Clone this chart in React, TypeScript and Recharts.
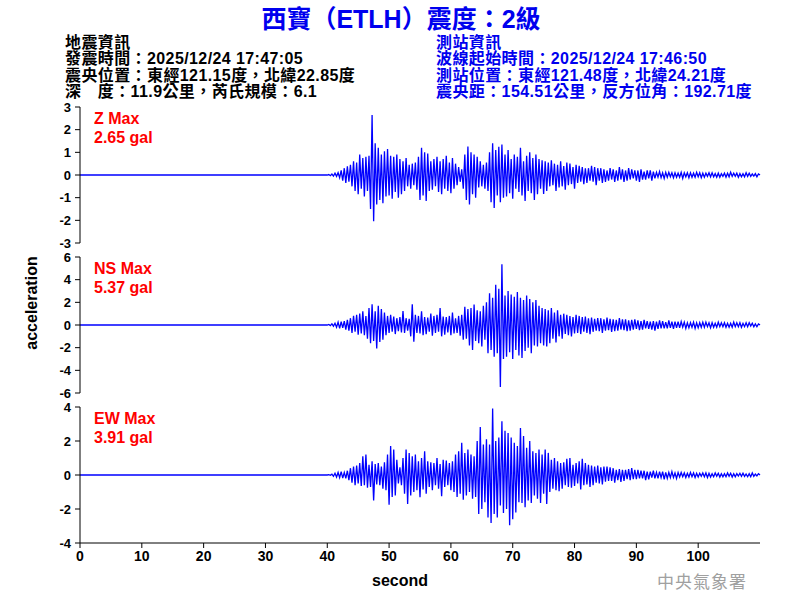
import React from 'react';
import { LineChart, Line, XAxis, YAxis } from 'recharts';

// ============================================
// DATA
// ============================================

// sampling grid of the traces (seconds); before the first sample the trace is flat
const SIGNAL_START = 40;
const SAMPLE_STEP = 0.25;

const secondTicks = [0, 10, 20, 30, 40, 50, 60, 70, 80, 90, 100];

const zTicks = [-3, -2, -1, 0, 1, 2, 3];
const nsTicks = [-6, -4, -2, 0, 2, 4, 6];
const ewTicks = [-4, -2, 0, 2, 4];

// vertical component (gal), one row per second, 4 samples per row
const zValues = [
  0, 0.02, -0.03, 0.04,
  -0.05, 0.08, -0.06, 0.1,
  -0.12, 0.2, -0.25, 0.3,
  -0.35, 0.38, -0.3, 0.45,
  -0.5, 0.6, -0.7, 0.55,
  -0.85, 0.9, -0.6, 0.75,
  -0.95, 0.8, -0.7, 0.85,
  -1.5, 2.65, -2.04, 1.4,
  -1.3, 1.2, -1.1, 0.9,
  -1.25, 1.05, -0.95, 1.15,
  -0.9, 0.85, -1.05, 0.8,
  -0.75, 0.9, -1.0, 0.7,
  -0.85, 0.6, -0.7, 0.75,
  -0.5, 0.45, -0.6, 0.5,
  -0.45, 0.55, -0.65, 0.8,
  -1.1, 1.2, -0.9, 1.0,
  -1.15, 0.95, -0.7, 0.6,
  -0.65, 0.7, -0.5, 0.8,
  -0.75, 0.6, -0.85, 0.7,
  -0.6, 0.85, -0.7, 0.55,
  -0.8, 0.75, -0.6, 0.5,
  -0.45, 0.35, -0.3, 0.25,
  -0.6, 0.9, -1.1, 1.26,
  -1.3, 1.0, -0.85, 0.9,
  -1.0, 0.8, -0.55, 0.6,
  -0.5, 0.45, -0.6, 0.55,
  -0.7, 1.0, -1.2, 1.4,
  -1.45, 1.1, -0.9, 1.25,
  -1.2, 1.35, -1.0, 0.9,
  -0.95, 1.1, -0.8, 0.7,
  -1.05, 0.9, -0.6, 0.8,
  -0.75, 1.2, -0.9, 0.6,
  -1.15, 0.85, -0.7, 1.0,
  -0.8, 0.75, -1.1, 0.9,
  -0.85, 0.7, -0.6, 0.65,
  -0.84, 0.6, -0.7, 0.55,
  -0.5, 0.65, -0.45, 0.5,
  -0.7, 0.45, -0.55, 0.6,
  -0.5, 0.4, -0.65, 0.55,
  -0.45, 0.5, -0.4, 0.35,
  -0.6, 0.45, -0.35, 0.4,
  -0.3, 0.35, -0.4, 0.3,
  -0.35, 0.3, -0.25, 0.4,
  -0.3, 0.35, -0.45, 0.3,
  -0.25, 0.3, -0.35, 0.25,
  -0.3, 0.2, -0.25, 0.3,
  -0.2, 0.25, -0.3, 0.2,
  -0.25, 0.35, -0.2, 0.25,
  -0.3, 0.2, -0.25, 0.3,
  -0.2, 0.25, -0.15, 0.2,
  -0.25, 0.2, -0.3, 0.25,
  -0.2, 0.15, -0.2, 0.2,
  -0.15, 0.2, -0.25, 0.15,
  -0.15, 0.12, -0.1, 0.15,
  -0.12, 0.1, -0.15, 0.12,
  -0.1, 0.12, -0.08, 0.1,
  -0.12, 0.1, -0.1, 0.08,
  -0.1, 0.12, -0.15, 0.1,
  -0.08, 0.1, -0.12, 0.1,
  -0.1, 0.08, -0.1, 0.12,
  -0.08, 0.1, -0.12, 0.08,
  -0.1, 0.08, -0.06, 0.1,
  -0.08, 0.1, -0.08, 0.06,
  -0.1, 0.08, -0.1, 0.06,
  -0.06, 0.08, -0.1, 0.08,
  -0.08, 0.12, -0.06, 0.08,
  -0.06, 0.08, -0.1, 0.06,
  -0.08, 0.06, -0.08, 0.1,
  -0.06, 0.08, -0.06, 0.05,
  -0.05, 0.06, -0.08, 0.05,
  0,
];

// north-south component (gal)
const nsValues = [
  0, 0.05, -0.05, 0.1,
  -0.1, 0.15, -0.2, 0.25,
  -0.3, 0.3, -0.25, 0.35,
  -0.4, 0.45, -0.5, 0.6,
  -0.7, 0.8, -0.6, 0.9,
  -0.85, 1.0, -0.75, 1.2,
  -0.9, 0.8, -1.2, 1.5,
  -1.6, 1.83, -1.4, 1.2,
  -2.07, 1.7, -1.5, 1.4,
  -1.3, 1.1, -0.9, 0.8,
  -0.7, 0.9, -0.6, 0.75,
  -0.8, 0.6, -0.55, 0.7,
  -0.65, 1.24, -0.7, 0.6,
  -0.5, 0.55, -1.0, 1.83,
  -1.48, 0.9, -0.7, 0.8,
  -0.75, 1.2, -0.9, 0.7,
  -0.8, 0.65, -0.6, 1.0,
  -0.95, 0.8, -0.7, 0.9,
  -0.6, 1.5, -1.0, 0.75,
  -0.85, 0.7, -0.65, 0.8,
  -0.9, 1.1, -0.75, 0.6,
  -0.7, 0.8, -0.95, 0.9,
  -1.3, 1.6, -1.2, 1.4,
  -1.8, 1.5, -2.2, 1.8,
  -1.4, 1.3, -1.6, 1.2,
  -1.9, 1.7, -1.3, 2.0,
  -2.5, 2.8, -2.2, 2.4,
  -2.8, 3.55, -2.5, 3.2,
  -5.47, 5.37, -3.0, 2.6,
  -2.8, 3.0, -2.4, 2.7,
  -3.0, 2.5, -2.2, 2.9,
  -2.7, 2.4, -2.9, 2.2,
  -2.3, 2.6, -2.0, 2.3,
  -2.5, 2.0, -1.8, 2.2,
  -1.9, 1.7, -1.6, 1.5,
  -1.8, 1.4, -1.9, 1.3,
  -1.6, 1.5, -1.2, 1.1,
  -1.54, 1.3, -1.0, 0.9,
  -1.2, 1.0, -0.8, 0.9,
  -0.9, 0.8, -1.0, 0.7,
  -0.75, 0.9, -0.7, 0.8,
  -0.8, 0.7, -0.6, 0.75,
  -0.7, 0.6, -0.8, 0.65,
  -0.6, 0.55, -0.5, 0.6,
  -0.55, 0.6, -0.7, 0.5,
  -0.5, 0.65, -0.45, 0.55,
  -0.6, 0.5, -0.55, 0.45,
  -0.5, 0.6, -0.4, 0.5,
  -0.45, 0.5, -0.55, 0.4,
  -0.5, 0.45, -0.4, 0.5,
  -0.35, 0.4, -0.45, 0.35,
  -0.4, 0.45, -0.3, 0.35,
  -0.35, 0.3, -0.4, 0.35,
  -0.5, 0.3, -0.35, 0.4,
  -0.3, 0.35, -0.3, 0.25,
  -0.3, 0.4, -0.25, 0.3,
  -0.35, 0.3, -0.25, 0.3,
  -0.25, 0.3, -0.2, 0.25,
  -0.3, 0.2, -0.25, 0.2,
  -0.2, 0.25, -0.3, 0.2,
  -0.25, 0.2, -0.2, 0.25,
  -0.2, 0.25, -0.15, 0.2,
  -0.25, 0.2, -0.2, 0.15,
  -0.2, 0.25, -0.15, 0.2,
  -0.15, 0.2, -0.2, 0.15,
  -0.2, 0.15, -0.2, 0.25,
  -0.15, 0.2, -0.15, 0.2,
  -0.2, 0.15, -0.15, 0.2,
  -0.15, 0.2, -0.1, 0.15,
  -0.15, 0.1, -0.15, 0.1,
  0,
];

// east-west component (gal)
const ewValues = [
  0, 0.02, -0.02, 0.05,
  -0.08, 0.1, -0.12, 0.15,
  -0.15, 0.2, -0.18, 0.15,
  -0.2, 0.25, -0.3, 0.4,
  -0.45, 0.5, -0.6, 0.55,
  -0.5, 0.7, -0.65, 1.1,
  -0.6, 1.2, -0.75, 0.6,
  -0.7, 0.8, -1.5, 0.65,
  -0.55, 0.7, -0.6, 0.5,
  -0.8, 0.75, -0.9, 1.2,
  -1.75, 1.7, -1.3, 1.5,
  -1.2, 0.9, -0.5, 0.45,
  -0.6, 1.0, -1.1, 1.5,
  -1.7, 1.3, -1.2, 1.1,
  -1.0, 1.2, -0.9, 0.8,
  -1.3, 1.0, -0.85, 1.4,
  -1.1, 0.8, -0.7, 0.75,
  -0.9, 0.7, -0.6, 1.0,
  -0.8, 0.65, -1.25, 0.9,
  -0.7, 0.85, -0.6, 0.7,
  -0.9, 0.8, -1.0, 1.2,
  -1.3, 1.4, -1.1, 1.9,
  -1.45, 1.3, -1.2, 1.5,
  -1.0, 1.2, -1.4, 1.1,
  -1.3, 2.0, -2.3, 2.82,
  -2.0, 1.8, -1.6, 2.1,
  -2.5, 1.8, -2.82, 3.91,
  -2.3, 2.0, -2.5, 2.2,
  -1.8, 3.16, -2.24, 2.6,
  -2.0, 2.47, -2.96, 2.2,
  -2.6, 1.9, -2.2, 1.7,
  -1.6, 2.76, -1.65, 2.3,
  -1.9, 1.6, -1.5, 2.0,
  -1.65, 1.4, -1.2, 1.3,
  -1.4, 1.5, -1.65, 1.2,
  -1.1, 1.5, -1.7, 1.3,
  -1.0, 0.9, -0.8, 1.0,
  -0.9, 0.8, -0.95, 0.7,
  -0.8, 0.75, -0.6, 0.95,
  -0.7, 1.0, -0.75, 0.6,
  -0.65, 0.7, -0.5, 0.8,
  -0.85, 0.95, -0.6, 0.7,
  -0.55, 0.6, -0.7, 0.55,
  -0.6, 0.5, -0.45, 0.55,
  -0.5, 0.45, -0.55, 0.5,
  -0.4, 0.5, -0.35, 0.45,
  -0.35, 0.4, -0.45, 0.3,
  -0.3, 0.35, -0.4, 0.3,
  -0.35, 0.3, -0.25, 0.35,
  -0.3, 0.4, -0.25, 0.3,
  -0.25, 0.3, -0.2, 0.25,
  -0.2, 0.25, -0.3, 0.2,
  -0.25, 0.2, -0.15, 0.25,
  -0.2, 0.15, -0.2, 0.2,
  -0.15, 0.2, -0.25, 0.15,
  -0.2, 0.15, -0.15, 0.2,
  -0.15, 0.12, -0.2, 0.15,
  -0.12, 0.15, -0.1, 0.12,
  -0.15, 0.1, -0.12, 0.15,
  -0.1, 0.12, -0.15, 0.1,
  -0.12, 0.1, -0.08, 0.12,
  -0.1, 0.12, -0.15, 0.1,
  -0.12, 0.08, -0.1, 0.12,
  -0.08, 0.1, -0.12, 0.08,
  -0.1, 0.08, -0.1, 0.12,
  -0.08, 0.1, -0.12, 0.08,
  -0.1, 0.08, -0.06, 0.1,
  -0.08, 0.1, -0.08, 0.06,
  -0.1, 0.08, -0.1, 0.12,
  -0.08, 0.06, -0.05, 0.08,
  0,
];

const headerLeft = [
  '地震資訊',
  '發震時間：2025/12/24 17:47:05',
  '震央位置：東經121.15度，北緯22.85度',
  '深　度：11.9公里，芮氏規模：6.1',
];

const headerRight = [
  '測站資訊',
  '波線起始時間：2025/12/24 17:46:50',
  '測站位置：東經121.48度，北緯24.21度',
  '震央距：154.51公里，反方位角：192.71度',
];

// ============================================
// HELPERS
// ============================================

const FONT = "'Liberation Sans', Arial, 'Noto Sans CJK TC', sans-serif";
const CJK_FONT = "'Liberation Sans', 'Noto Sans CJK TC', sans-serif";
const WAVE_BLUE = '#0000ff';

const toTrace = (values: number[]) => [
  { t: 0, v: 0 },
  ...values.map((v, i) => ({ t: SIGNAL_START + i * SAMPLE_STEP, v })),
];

const tickStyle = { fontFamily: FONT, fontSize: 13, fontWeight: 700, fill: '#000' };

interface PanelProps {
  top: number;
  values: number[];
  ticks: number[];
  limit: number;
  showXAxis?: boolean;
}

const Panel = ({ top, values, ticks, limit, showXAxis }: PanelProps) => {
  const data = toTrace(values);
  return (
    <div style={{ position: 'absolute', left: 0, top }}>
      <LineChart
        width={800}
        height={showXAxis ? 176 : 156}
        data={data}
        margin={{ top: 10, right: 40, left: 0, bottom: showXAxis ? 0 : 10 }}
      >
        <XAxis
          dataKey="t"
          type="number"
          domain={[0, 110]}
          ticks={secondTicks}
          interval={0}
          hide={!showXAxis}
          height={30}
          tickSize={5}
          tickMargin={3}
          axisLine={{ stroke: '#000' }}
          tickLine={{ stroke: '#000' }}
          tick={{ ...tickStyle, fontSize: 14 }}
        />
        <YAxis
          type="number"
          domain={[-limit, limit]}
          ticks={ticks}
          interval={0}
          width={80}
          tickSize={5}
          tickMargin={4}
          allowDataOverflow
          axisLine={{ stroke: '#000' }}
          tickLine={{ stroke: '#000' }}
          tick={tickStyle}
        />
        <Line
          type="linear"
          dataKey="v"
          stroke={WAVE_BLUE}
          strokeWidth={1.3}
          dot={false}
          activeDot={false}
          isAnimationActive={false}
        />
      </LineChart>
    </div>
  );
};

// ============================================
// MAIN COMPONENT
// ============================================

export default function App() {
  return (
    <div
      style={{
        position: 'absolute',
        left: 0,
        top: 0,
        width: 800,
        height: 600,
        background: '#fff',
        overflow: 'hidden',
      }}
    >
      {/* Titles, station info and panel labels */}
      <svg width={800} height={600} style={{ position: 'absolute', left: 0, top: 0 }}>
        <text
          x={401}
          y={28}
          textAnchor="middle"
          fontFamily={CJK_FONT}
          fontSize={25}
          fontWeight={700}
          fill="#0000ee"
        >
          西寶（ETLH）震度：2級
        </text>

        {headerLeft.map((line, i) => (
          <text
            key={`l${i}`}
            x={65}
            y={47.5 + i * 16.5}
            fontFamily={CJK_FONT}
            fontSize={16}
            fontWeight={700}
            letterSpacing={0.4}
            fill="#000"
          >
            {line}
          </text>
        ))}
        {headerRight.map((line, i) => (
          <text
            key={`r${i}`}
            x={436}
            y={47.5 + i * 16.5}
            fontFamily={CJK_FONT}
            fontSize={16}
            fontWeight={700}
            letterSpacing={0.4}
            fill="#0000ee"
          >
            {line}
          </text>
        ))}

        {/* Panel max labels */}
        {[
          { top: 107, name: 'Z Max', max: '2.65 gal' },
          { top: 257, name: 'NS Max', max: '5.37 gal' },
          { top: 407, name: 'EW Max', max: '3.91 gal' },
        ].map((p) => (
          <g key={p.name} fontFamily={FONT} fontSize={16} fontWeight={700} fill="#ff0000">
            <text x={94} y={p.top + 16.5}>{p.name}</text>
            <text x={94} y={p.top + 36}>{p.max}</text>
          </g>
        ))}

        {/* Axis titles */}
        <text
          transform="translate(37,303) rotate(-90)"
          textAnchor="middle"
          fontFamily={FONT}
          fontSize={16}
          fontWeight={700}
          fill="#000"
        >
          acceleration
        </text>
        <text
          x={400}
          y={586}
          textAnchor="middle"
          fontFamily={FONT}
          fontSize={16}
          fontWeight={700}
          fill="#000"
        >
          second
        </text>

        {/* Watermark */}
        <text
          x={657}
          y={588}
          fontFamily="'Noto Sans CJK TC', sans-serif"
          fontSize={17}
          letterSpacing={1}
          fill="#a0a0a0"
        >
          中央氣象署
        </text>
      </svg>

      <Panel top={97} values={zValues} ticks={zTicks} limit={3} />
      <Panel top={247} values={nsValues} ticks={nsTicks} limit={6} />
      <Panel top={397} values={ewValues} ticks={ewTicks} limit={4} showXAxis />
    </div>
  );
}
